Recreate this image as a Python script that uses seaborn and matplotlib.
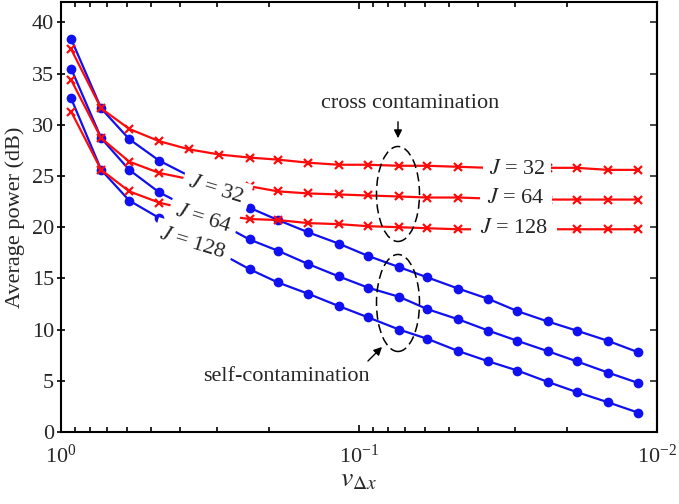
import numpy as np
import pandas as pd
import seaborn as sns
import matplotlib.pyplot as plt
from matplotlib.patches import Ellipse

# normalised velocity (log axis)
v_dx = [0.925, 0.733, 0.590, 0.468, 0.371, 0.294, 0.233, 0.187, 0.148, 0.117,
        0.0933, 0.0733, 0.0590, 0.0464, 0.0368, 0.0294, 0.0233, 0.0186, 0.0146, 0.0116]

# self-contamination (blue dots)
self_32 = [38.4, 31.6, 28.6, 26.5, 25.0, 23.4, 21.9, 20.7, 19.5, 18.4,
           17.2, 16.1, 15.1, 14.0, 13.0, 11.8, 10.8, 9.9, 8.9, 7.8]
self_64 = [35.5, 28.7, 25.6, 23.4, 21.9, 20.4, 18.8, 17.7, 16.4, 15.2,
           14.1, 13.2, 12.0, 11.0, 9.9, 8.9, 7.9, 6.9, 5.8, 4.8]
self_128 = [32.6, 25.6, 22.6, 20.9, 19.2, 17.5, 15.9, 14.6, 13.5, 12.3,
            11.2, 10.0, 9.1, 7.9, 6.9, 6.0, 4.9, 3.9, 2.9, 1.9]

# cross contamination (red crosses)
cross_32 = [37.4, 31.6, 29.6, 28.4, 27.6, 27.1, 26.8, 26.6, 26.3, 26.1,
            26.1, 26.0, 26.0, 25.9, 25.8, 25.8, 25.8, 25.8, 25.6, 25.6]
cross_64 = [34.4, 28.7, 26.4, 25.3, 24.7, 24.4, 24.0, 23.5, 23.3, 23.2,
            23.1, 23.0, 22.9, 22.9, 22.8, 22.8, 22.7, 22.7, 22.7, 22.7]
cross_128 = [31.3, 25.6, 23.5, 22.4, 21.7, 21.2, 20.8, 20.7, 20.4, 20.3,
             20.1, 20.0, 19.9, 19.8, 19.8, 19.8, 19.8, 19.8, 19.8, 19.8]

J_labels = ['$J$ = 32', '$J$ = 64', '$J$ = 128']

sns.set_style('ticks')
plt.rcParams['font.family'] = ['Liberation Serif', 'DejaVu Serif']
plt.rcParams['mathtext.fontset'] = 'stix'
plt.rcParams['axes.unicode_minus'] = False

blue = '#1010F0'
red = '#FF0A0A'

fig = plt.figure(figsize=(6.79, 5.04), dpi=100)
ax = fig.add_axes([0.0898, 0.1429, 0.8778, 0.8532])

for ys in [self_32, self_64, self_128]:
    sns.lineplot(x=v_dx, y=ys, ax=ax, color=blue, lw=1.6, marker='o',
                 markersize=7, markeredgecolor=blue, markeredgewidth=0,
                 estimator=None, sort=False, zorder=2)
for ys in [cross_32, cross_64, cross_128]:
    sns.lineplot(x=v_dx, y=ys, ax=ax, color=red, lw=1.6, marker='x',
                 markersize=6, markeredgecolor=red, markeredgewidth=1.6,
                 estimator=None, sort=False, zorder=3)

ax.set_xscale('log')
ax.set_xlim(1, 0.01)
ax.set_ylim(0, 42)
ax.set_yticks(np.arange(0, 41, 5))
ax.set_xticks([1, 0.1, 0.01])
ax.set_xticklabels(['$\\mathdefault{10^{0}}$', '$\\mathdefault{10^{-1}}$', '$\\mathdefault{10^{-2}}$'])

for s in ax.spines.values():
    s.set_linewidth(1.5)
    s.set_color('black')

ax.tick_params(axis='x', which='both', direction='in', top=True, bottom=True,
               labelsize=16, pad=9, width=1.2, color='black')
ax.tick_params(axis='x', which='major', length=5)
ax.tick_params(axis='x', which='minor', length=3.5)
ax.tick_params(axis='y', which='major', direction='inout', left=True, right=False,
               length=6, width=1.2, labelsize=16, pad=2, color='black')
sec = ax.secondary_yaxis('right')
sec.set_yticks(np.arange(0, 41, 5))
sec.tick_params(direction='in', length=5, width=1.2, labelright=False)
sec.spines['right'].set_linewidth(1.5)

ax.set_ylabel('Average power (dB)', fontsize=16, labelpad=5)
ax.set_xlabel('$v_{\\Delta x}$', fontsize=20, labelpad=0)


def axpos(px, py):
    return ((px - 61) / 596, (432 - py) / 430)


# labels on the right (break the red lines)
for lab, (px, py), pd_ in zip(J_labels, [(517, 170), (516, 199), (514, 229)], [4, 5, 6]):
    ax.text(*axpos(px, py), lab, transform=ax.transAxes, fontsize=16,
            ha='center', va='center', zorder=6,
            bbox=dict(facecolor='white', edgecolor='none', pad=pd_))

# slanted labels on the left
for lab, (px, py) in zip(J_labels, [(216, 190), (203, 219), (193, 244)]):
    ax.text(*axpos(px, py), lab, transform=ax.transAxes, fontsize=16,
            ha='center', va='center', rotation=-17, rotation_mode='anchor',
            bbox=dict(facecolor='white', edgecolor='none', pad=4.5), zorder=5)

# annotations
ax.text(*axpos(410, 104), 'cross contamination', transform=ax.transAxes,
        fontsize=16, ha='center', va='center')
ax.text(*axpos(286, 377), 'self-contamination', transform=ax.transAxes,
        fontsize=16, ha='center', va='center')

for (cx, cy), h in [((398, 194), 95), ((398, 303), 97)]:
    ax.add_patch(Ellipse(axpos(cx, cy), 43 / 596, h / 430, transform=ax.transAxes,
                         fill=False, ls=(0, (6, 3)), lw=1.1, ec='black', zorder=7))

ax.annotate('', xy=axpos(398, 141), xytext=axpos(398, 119),
            xycoords='axes fraction', textcoords='axes fraction',
            arrowprops=dict(arrowstyle='-|>', color='black', lw=1, mutation_scale=12))
ax.annotate('', xy=axpos(384, 345), xytext=axpos(366, 363),
            xycoords='axes fraction', textcoords='axes fraction',
            arrowprops=dict(arrowstyle='-|>', color='black', lw=1, mutation_scale=12))

plt.savefig('out.png', dpi=100)
